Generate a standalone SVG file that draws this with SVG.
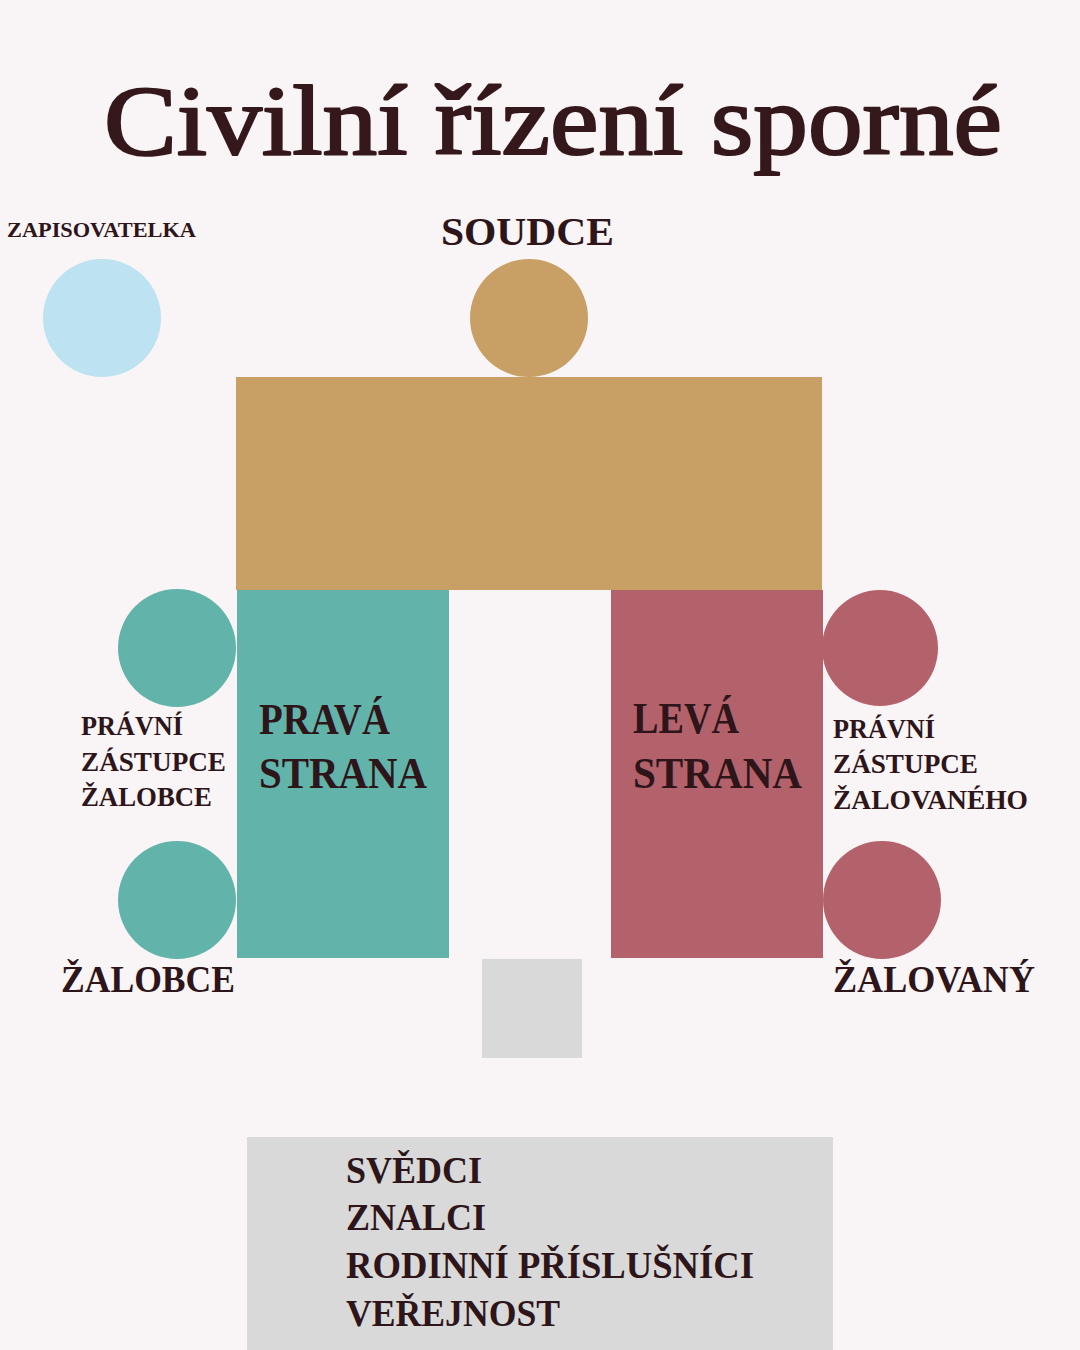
<svg xmlns="http://www.w3.org/2000/svg" width="1080" height="1350" viewBox="0 0 1080 1350">
<style>
.t{font-family:"Liberation Serif","DejaVu Serif",serif;font-weight:bold;fill:#2d1519}
.title{font-family:"Liberation Serif","DejaVu Serif",serif;font-weight:normal;fill:#35181c;stroke:#35181c;stroke-width:2.2;stroke-linejoin:round}
.tan{fill:#c8a065}
.teal{fill:#62b3aa}
.red{fill:#b3626b}
.grey{fill:#d9d9d9}
.blue{fill:#bde2f1}
</style>
<rect width="1080" height="1350" fill="#f9f4f5"/>
<text class="title" x="104" y="154" font-size="100" textLength="898" lengthAdjust="spacingAndGlyphs">Civilní řízení sporné</text>
<g id="zapisovatelka">
<circle class="blue" cx="102" cy="318" r="59"/>
<text class="t" x="7" y="237" font-size="21" textLength="189" lengthAdjust="spacingAndGlyphs">ZAPISOVATELKA</text>
</g>
<g id="soudce">
<circle class="tan" cx="529" cy="318" r="59"/>
<text class="t" x="441" y="245" font-size="39" textLength="173" lengthAdjust="spacingAndGlyphs">SOUDCE</text>
</g>
<g id="stul-soudce">
<rect class="tan" x="236" y="377" width="586" height="213"/>
</g>
<g id="prava-strana">
<rect class="teal" x="237" y="590" width="212" height="368"/>
<text class="t" x="259" y="734" font-size="44" textLength="131" lengthAdjust="spacingAndGlyphs">PRAVÁ</text>
<text class="t" x="259" y="788" font-size="44" textLength="168" lengthAdjust="spacingAndGlyphs">STRANA</text>
</g>
<g id="leva-strana">
<rect class="red" x="611" y="590" width="212" height="368"/>
<text class="t" x="633" y="733" font-size="44" textLength="106" lengthAdjust="spacingAndGlyphs">LEVÁ</text>
<text class="t" x="633" y="788" font-size="44" textLength="169" lengthAdjust="spacingAndGlyphs">STRANA</text>
</g>
<g id="pravni-zastupce-zalobce">
<circle class="teal" cx="177" cy="648" r="59"/>
<text class="t" x="81" y="735" font-size="28" textLength="102" lengthAdjust="spacingAndGlyphs">PRÁVNÍ</text>
<text class="t" x="81" y="771" font-size="28" textLength="145" lengthAdjust="spacingAndGlyphs">ZÁSTUPCE</text>
<text class="t" x="81" y="806" font-size="28" textLength="131" lengthAdjust="spacingAndGlyphs">ŽALOBCE</text>
</g>
<g id="zalobce">
<circle class="teal" cx="177" cy="900" r="59"/>
<text class="t" x="61" y="992" font-size="38" textLength="174" lengthAdjust="spacingAndGlyphs">ŽALOBCE</text>
</g>
<g id="pravni-zastupce-zalovaneho">
<circle class="red" cx="880" cy="648" r="58"/>
<text class="t" x="833" y="738" font-size="28" textLength="102" lengthAdjust="spacingAndGlyphs">PRÁVNÍ</text>
<text class="t" x="833" y="773" font-size="28" textLength="145" lengthAdjust="spacingAndGlyphs">ZÁSTUPCE</text>
<text class="t" x="833" y="809" font-size="28" textLength="195" lengthAdjust="spacingAndGlyphs">ŽALOVANÉHO</text>
</g>
<g id="zalovany">
<circle class="red" cx="882" cy="900" r="59"/>
<text class="t" x="833" y="992" font-size="38" textLength="202" lengthAdjust="spacingAndGlyphs">ŽALOVANÝ</text>
</g>
<g id="misto-svedka">
<rect class="grey" x="482" y="959" width="100" height="99"/>
</g>
<g id="verejnost">
<rect class="grey" x="247" y="1137" width="586" height="213"/>
<text class="t" x="346" y="1183" font-size="38" textLength="136" lengthAdjust="spacingAndGlyphs">SVĚDCI</text>
<text class="t" x="346" y="1230" font-size="38" textLength="140" lengthAdjust="spacingAndGlyphs">ZNALCI</text>
<text class="t" x="346" y="1278" font-size="38" textLength="408" lengthAdjust="spacingAndGlyphs">RODINNÍ PŘÍSLUŠNÍCI</text>
<text class="t" x="346" y="1326" font-size="38" textLength="214" lengthAdjust="spacingAndGlyphs">VEŘEJNOST</text>
</g>
<g id="connectors"/>
</svg>
